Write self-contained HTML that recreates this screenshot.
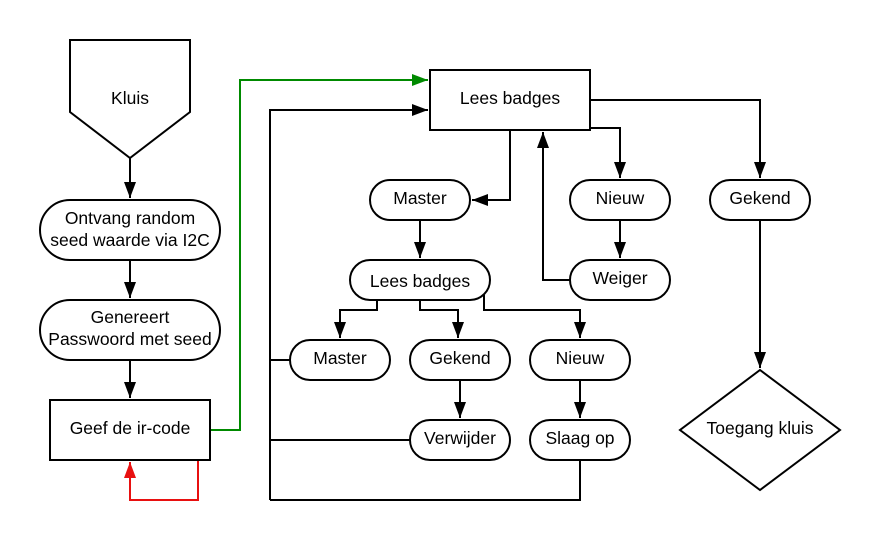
<!DOCTYPE html>
<html><head><meta charset="utf-8"><style>html,body{margin:0;padding:0;background:#fff}svg{display:block}text{font-family:"Liberation Sans",sans-serif;font-size:17.5px;fill:#000;text-anchor:middle;dominant-baseline:central}</style></head><body>
<svg width="880" height="541" viewBox="0 0 880 541" xmlns="http://www.w3.org/2000/svg">
<defs>
<marker id="b" viewBox="0 0 16 12" refX="16" refY="6" markerWidth="16" markerHeight="12" markerUnits="userSpaceOnUse" orient="auto"><path d="M0,0 L16,6 L0,12 z" fill="#000"/></marker>
<marker id="g" viewBox="0 0 16 12" refX="16" refY="6" markerWidth="16" markerHeight="12" markerUnits="userSpaceOnUse" orient="auto"><path d="M0,0 L16,6 L0,12 z" fill="#008a00"/></marker>
<marker id="r" viewBox="0 0 16 12" refX="16" refY="6" markerWidth="16" markerHeight="12" markerUnits="userSpaceOnUse" orient="auto"><path d="M0,0 L16,6 L0,12 z" fill="#e81010"/></marker>
</defs>
<g fill="none" stroke="#000" stroke-width="2">
<path d="M130,158 V198" marker-end="url(#b)"/>
<path d="M130,260 V298" marker-end="url(#b)"/>
<path d="M130,360 V398" marker-end="url(#b)"/>
<path d="M198,460 V500 H130 V462" stroke="#e81010" marker-end="url(#r)"/>
<path d="M210,430 H240 V80 H428" stroke="#008a00" marker-end="url(#g)"/>
<path d="M270,500 V110 H428" marker-end="url(#b)"/>
<path d="M510,130 V200 H472" marker-end="url(#b)"/>
<path d="M590,128 H620 V178" marker-end="url(#b)"/>
<path d="M590,100 H760 V178" marker-end="url(#b)"/>
<path d="M620,220 V258" marker-end="url(#b)"/>
<path d="M570,280 H543 V132" marker-end="url(#b)"/>
<path d="M760,220 V368" marker-end="url(#b)"/>
<path d="M420,220 V258" marker-end="url(#b)"/>
<path d="M377,300 V310 H340 V338" marker-end="url(#b)"/>
<path d="M420,300 V310 H458 V338" marker-end="url(#b)"/>
<path d="M484,295 V310 H580 V338" marker-end="url(#b)"/>
<path d="M460,380 V418" marker-end="url(#b)"/>
<path d="M580,380 V418" marker-end="url(#b)"/>
<path d="M270,360 H290"/>
<path d="M270,440 H410"/>
<path d="M580,460 V500 H270"/>
<path d="M70,40 H190 V112 L130,158 L70,112 Z" fill="#fff"/>
<rect x="40" y="200" width="180" height="60" rx="30" fill="#fff"/>
<rect x="40" y="300" width="180" height="60" rx="30" fill="#fff"/>
<rect x="50" y="400" width="160" height="60" fill="#fff"/>
<rect x="430" y="70" width="160" height="60" fill="#fff"/>
<rect x="370" y="180" width="100" height="40" rx="20" fill="#fff"/>
<rect x="570" y="180" width="100" height="40" rx="20" fill="#fff"/>
<rect x="710" y="180" width="100" height="40" rx="20" fill="#fff"/>
<rect x="570" y="260" width="100" height="40" rx="20" fill="#fff"/>
<rect x="350" y="260" width="140" height="40" rx="20" fill="#fff"/>
<rect x="290" y="340" width="100" height="40" rx="20" fill="#fff"/>
<rect x="410" y="340" width="100" height="40" rx="20" fill="#fff"/>
<rect x="530" y="340" width="100" height="40" rx="20" fill="#fff"/>
<rect x="410" y="420" width="100" height="40" rx="20" fill="#fff"/>
<rect x="530" y="420" width="100" height="40" rx="20" fill="#fff"/>
<path d="M760,370 L840,430 L760,490 L680,430 Z" fill="#fff"/>
</g>
<text x="130" y="98">Kluis</text>
<text x="130" y="218">Ontvang random</text>
<text x="130" y="240">seed waarde via I2C</text>
<text x="130" y="317">Genereert</text>
<text x="130" y="339">Passwoord met seed</text>
<text x="130" y="428">Geef de ir-code</text>
<text x="510" y="98">Lees badges</text>
<text x="420" y="198">Master</text>
<text x="620" y="198">Nieuw</text>
<text x="760" y="198">Gekend</text>
<text x="620" y="278">Weiger</text>
<text x="420" y="281">Lees badges</text>
<text x="340" y="358">Master</text>
<text x="460" y="358">Gekend</text>
<text x="580" y="358">Nieuw</text>
<text x="460" y="438">Verwijder</text>
<text x="580" y="438">Slaag op</text>
<text x="760" y="428">Toegang kluis</text>
</svg>
</body></html>
